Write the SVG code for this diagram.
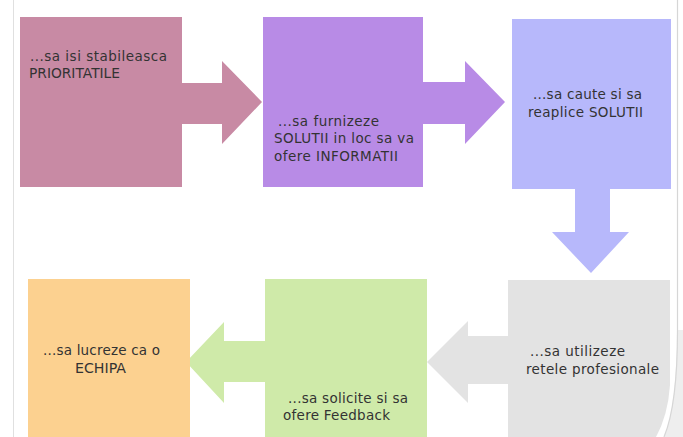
<svg xmlns="http://www.w3.org/2000/svg" width="683" height="437" viewBox="0 0 683 437">
  <style>
    .t { font-family: "DejaVu Sans", Verdana, sans-serif; font-size: 13.5px; fill: #333333; }
  </style>
  <rect x="0" y="0" width="683" height="437" fill="#ffffff"/>
  <line x1="13.5" y1="0" x2="13.5" y2="437" stroke="#e0e0e0" stroke-width="1"/>
  <path d="M677,330 Q677,405 664,437 H683 V330 Z" fill="#eeeeee"/>
  <path d="M677.5,0 V330 Q677.5,405 664,437" fill="none" stroke="#d6d6d6" stroke-width="1.2"/>

  <g id="connectors">
    <polygon points="182,83 222,83 222,61 262,102 222,144 222,124 182,124" fill="#c88aa4"/>
    <polygon points="423,82 465,82 465,61 505,102 465,144 465,124 423,124" fill="#b88be6"/>
    <polygon points="575,189 610,189 610,232 629,232 591,273 552,232 575,232" fill="#b7b8fb"/>
    <polygon points="508,336 468,336 468,321 427,362 468,403 468,384 508,384" fill="#e3e3e3"/>
    <polygon points="265,341 224,341 224,322 186,362 224,403 224,382 265,382" fill="#cfeaa9"/>
  </g>

  <g id="node1">
    <rect x="20" y="17" width="162" height="170" fill="#c88aa4"/>
    <text class="t" x="30" y="61" textLength="137" lengthAdjust="spacing">...sa isi stabileasca</text>
    <text class="t" x="29" y="78" textLength="91" lengthAdjust="spacingAndGlyphs">PRIORITATILE</text>
  </g>
  <g id="node2">
    <rect x="263" y="17" width="160" height="170" fill="#b88be6"/>
    <text class="t" x="278" y="126" textLength="101" lengthAdjust="spacing">...sa furnizeze</text>
    <text class="t" x="274" y="143" textLength="140" lengthAdjust="spacing">SOLUTII in loc sa va</text>
    <text class="t" x="274" y="161" textLength="124" lengthAdjust="spacing">ofere INFORMATII</text>
  </g>
  <g id="node3">
    <rect x="512" y="19" width="159" height="170" fill="#b7b8fb"/>
    <text class="t" x="533" y="99" textLength="109" lengthAdjust="spacing">...sa caute si sa</text>
    <text class="t" x="528" y="117" textLength="115" lengthAdjust="spacing">reaplice SOLUTII</text>
  </g>
  <g id="node4">
    <path d="M508,280 H670 V385 Q668,415 656,437 H508 Z" fill="#e3e3e3"/>
    <text class="t" x="530" y="356" textLength="95" lengthAdjust="spacing">...sa utilizeze</text>
    <text class="t" x="526" y="374" textLength="133" lengthAdjust="spacing">retele profesionale</text>
  </g>
  <g id="node5">
    <rect x="265" y="279" width="162" height="158" fill="#cfeaa9"/>
    <text class="t" x="288" y="403" textLength="120" lengthAdjust="spacing">...sa solicite si sa</text>
    <text class="t" x="283" y="420" textLength="107" lengthAdjust="spacing">ofere Feedback</text>
  </g>
  <g id="node6">
    <rect x="28" y="279" width="162" height="158" fill="#fcd190"/>
    <text class="t" x="43" y="355" textLength="117" lengthAdjust="spacing">...sa lucreze ca o</text>
    <text class="t" x="75" y="373" textLength="51" lengthAdjust="spacingAndGlyphs">ECHIPA</text>
  </g>
</svg>
